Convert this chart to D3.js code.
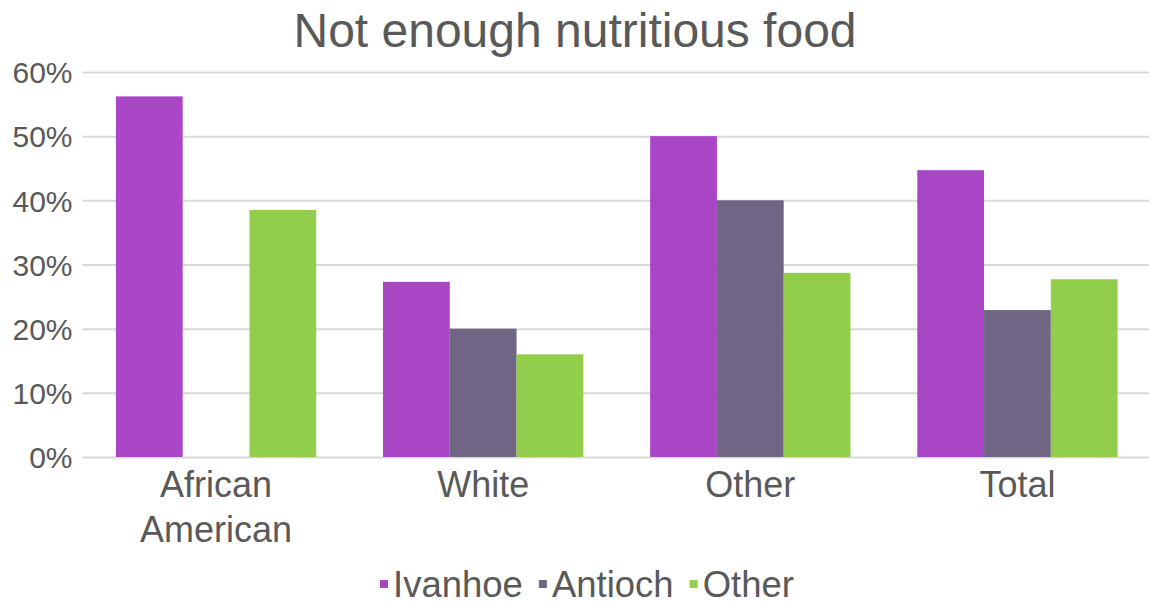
<!DOCTYPE html>
<html>
<head>
<meta charset="utf-8">
<script src="https://cdn.jsdelivr.net/npm/d3@7"></script>
<style>
  html, body { margin: 0; padding: 0; background: #fff; overflow: hidden; }
  text { font-family: "Liberation Sans", Arial, sans-serif; fill: #595959; }
</style>
</head>
<body>
<svg id="chart" width="1149" height="604"></svg>
<script>
// data
const categories = ['African American', 'White', 'Other', 'Total'];
const seriesNames = ['Ivanhoe', 'Antioch', 'Other'];
const ivanhoe = [0.562, 0.273, 0.500, 0.447];
const antioch = [0, 0.200, 0.400, 0.229];
const other = [0.385, 0.160, 0.287, 0.277];
const yTicks = [0, 0.1, 0.2, 0.3, 0.4, 0.5, 0.6];
const colors = ['#a846c6', '#706683', '#92ce4b'];

const width = 1149;
const height = 604;
const margin = { top: 72, right: -2, bottom: 147, left: 82.5 };

const svg = d3.select('#chart');

// one row per category for the grouped bars
const table = categories.map((c, i) => ({
    category: c,
    values: [ivanhoe[i], antioch[i], other[i]]
}));

const x0 = d3.scaleBand()
    .domain(categories)
    .range([margin.left, width - margin.right])
    .paddingInner(0.25)
    .paddingOuter(0.125);

const x1 = d3.scaleBand()
    .domain(seriesNames)
    .range([0, x0.bandwidth()]);

const y = d3.scaleLinear()
    .domain([0, 0.6])
    .range([height - margin.bottom, margin.top]);

// gridlines + tick labels
const yAxis = d3.axisLeft(y)
    .tickValues(yTicks)
    .tickFormat(d3.format('.0%'))
    .tickSize(-(width - margin.right - margin.left))
    .tickPadding(10);

const gy = svg.append('g')
    .attr('transform', `translate(${margin.left},0)`)
    .call(yAxis);
gy.select('.domain').remove();
gy.selectAll('.tick line').attr('stroke', '#d9d9d9').attr('stroke-width', 2);
gy.selectAll('.tick text')
    .style('font-size', '30px')
    .attr('dy', '0.36em');

// bars
const groups = svg.append('g')
    .selectAll('g')
    .data(table)
    .enter()
    .append('g')
    .attr('transform', d => `translate(${x0(d.category)},0)`);

groups.selectAll('rect')
    .data(d => d.values.map((v, i) => ({ key: seriesNames[i], value: v, i })))
    .enter()
    .append('rect')
    .attr('x', d => x1(d.key))
    .attr('y', d => y(d.value))
    .attr('width', x1.bandwidth())
    .attr('height', d => y(0) - y(d.value))
    .attr('fill', d => colors[d.i]);

// category labels, split over two lines where needed
const labelLines = {
    'African American': ['African', 'American']
};
svg.append('g')
    .selectAll('text')
    .data(categories)
    .enter()
    .append('text')
    .attr('x', d => x0(d) + x0.bandwidth() / 2)
    .attr('y', 497)
    .style('text-anchor', 'middle')
    .style('font-size', '36px')
    .each(function (d) {
        const lines = labelLines[d] || [d];
        const t = d3.select(this);
        lines.forEach((line, k) => {
            t.append('tspan')
                .attr('x', x0(d) + x0.bandwidth() / 2)
                .attr('dy', k === 0 ? 0 : 45)
                .text(line);
        });
    });

// title
svg.append('text')
    .attr('x', 575)
    .attr('y', 47)
    .style('text-anchor', 'middle')
    .style('font-size', '48px')
    .text('Not enough nutritious food');

// legend
const legend = svg.append('g');
let lx = 380;
seriesNames.forEach((name, i) => {
    legend.append('rect')
        .attr('x', lx)
        .attr('y', 580)
        .attr('width', 8)
        .attr('height', 8)
        .attr('fill', colors[i]);
    const t = legend.append('text')
        .attr('x', lx + 13)
        .attr('y', 597)
        .style('font-size', '36.5px')
        .text(name);
    lx += 13 + t.node().getComputedTextLength() + 16;
});
</script>
</body>
</html>
